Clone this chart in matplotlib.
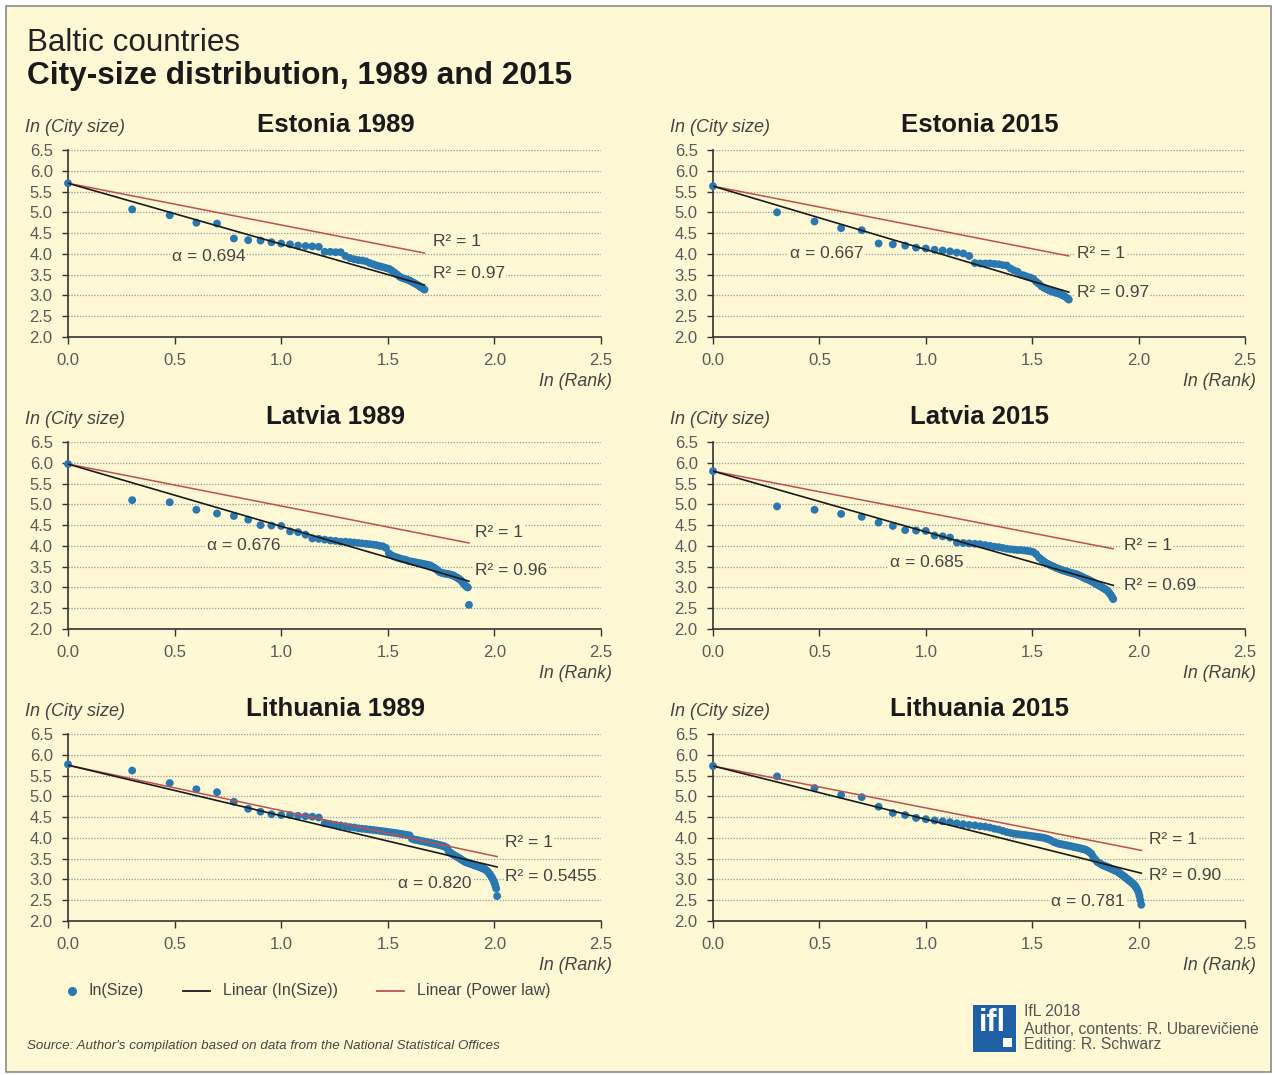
import numpy as np
import matplotlib
matplotlib.use("Agg")
import matplotlib.pyplot as plt
from matplotlib.patches import Rectangle
from matplotlib.lines import Line2D

plt.rcParams['font.family'] = ['Liberation Sans', 'DejaVu Sans']

# ---------------- data ----------------
panel_titles = ["Estonia 1989", "Estonia 2015", "Latvia 1989", "Latvia 2015",
                "Lithuania 1989", "Lithuania 2015"]

# log10(city size) by rank 1..N
est89_y = [5.70, 5.07, 4.93, 4.75, 4.73, 4.37, 4.33, 4.32, 4.28, 4.25,
           4.23, 4.20, 4.19, 4.18, 4.17, 4.05, 4.05, 4.04, 4.04, 3.95,
           3.90, 3.87, 3.85, 3.84, 3.82, 3.78, 3.75, 3.72, 3.70, 3.68,
           3.66, 3.64, 3.60, 3.55, 3.50, 3.45, 3.42, 3.40, 3.38, 3.36,
           3.33, 3.30, 3.27, 3.24, 3.20, 3.17, 3.14]
est15_y = [5.63, 5.00, 4.78, 4.62, 4.57, 4.25, 4.23, 4.20, 4.15, 4.13,
           4.10, 4.08, 4.06, 4.03, 4.01, 3.95, 3.78, 3.77, 3.77, 3.77,
           3.76, 3.75, 3.73, 3.72, 3.65, 3.60, 3.57, 3.50, 3.48, 3.45,
           3.43, 3.40, 3.33, 3.28, 3.22, 3.18, 3.15, 3.12, 3.10, 3.08,
           3.06, 3.05, 3.03, 3.00, 2.98, 2.94, 2.90]
lat89_y = [5.97, 5.10, 5.05, 4.87, 4.78, 4.72, 4.63, 4.50, 4.49, 4.48,
           4.35, 4.33, 4.27, 4.18, 4.17, 4.15, 4.13, 4.12, 4.10, 4.10,
           4.09, 4.08, 4.07, 4.06, 4.05, 4.04, 4.03, 4.02, 4.00, 3.99,
           3.95, 3.82, 3.77, 3.74, 3.72, 3.70, 3.68, 3.67, 3.65, 3.63,
           3.62, 3.61, 3.60, 3.59, 3.58, 3.57, 3.56, 3.55, 3.54, 3.53,
           3.50, 3.48, 3.45, 3.42, 3.38, 3.36, 3.35, 3.34, 3.33, 3.33,
           3.32, 3.31, 3.30, 3.29, 3.27, 3.25, 3.23, 3.21, 3.19, 3.16,
           3.12, 3.08, 3.05, 3.02, 3.00, 2.58]
lat15_y = [5.80, 4.95, 4.87, 4.77, 4.70, 4.56, 4.48, 4.38, 4.37, 4.36,
           4.25, 4.23, 4.20, 4.08, 4.07, 4.06, 4.05, 4.04, 4.02, 4.00,
           3.98, 3.97, 3.95, 3.93, 3.92, 3.91, 3.90, 3.90, 3.89, 3.88,
           3.87, 3.85, 3.80, 3.72, 3.67, 3.62, 3.58, 3.55, 3.52, 3.50,
           3.47, 3.45, 3.43, 3.41, 3.40, 3.38, 3.37, 3.35, 3.34, 3.33,
           3.32, 3.30, 3.28, 3.26, 3.24, 3.22, 3.20, 3.19, 3.17, 3.15,
           3.13, 3.11, 3.09, 3.07, 3.05, 3.03, 3.01, 2.99, 2.97, 2.95,
           2.93, 2.90, 2.86, 2.82, 2.77, 2.72]
lit89_y = [5.77, 5.62, 5.32, 5.17, 5.10, 4.87, 4.70, 4.63, 4.57, 4.55,
           4.55, 4.53, 4.52, 4.51, 4.49, 4.35, 4.33, 4.31, 4.30, 4.28,
           4.26, 4.25, 4.23, 4.22, 4.21, 4.20, 4.19, 4.18, 4.17, 4.16,
           4.15, 4.14, 4.13, 4.12, 4.11, 4.10, 4.09, 4.08, 4.07, 4.06,
           3.98, 3.96, 3.95, 3.94, 3.93, 3.92, 3.91, 3.90, 3.89, 3.88,
           3.87, 3.86, 3.85, 3.84, 3.83, 3.82, 3.81, 3.80, 3.78, 3.76,
           3.68, 3.65, 3.62, 3.60, 3.58, 3.56, 3.54, 3.52, 3.50, 3.48,
           3.46, 3.44, 3.42, 3.41, 3.40, 3.39, 3.38, 3.37, 3.36, 3.35,
           3.34, 3.33, 3.32, 3.31, 3.30, 3.29, 3.28, 3.27, 3.26, 3.25,
           3.23, 3.21, 3.19, 3.16, 3.13, 3.10, 3.06, 3.02, 2.97, 2.92,
           2.85, 2.78, 2.60]
lit15_y = [5.73, 5.48, 5.20, 5.03, 4.98, 4.75, 4.60, 4.55, 4.48, 4.45,
           4.42, 4.40, 4.38, 4.35, 4.33, 4.31, 4.30, 4.28, 4.27, 4.25,
           4.22, 4.20, 4.17, 4.14, 4.12, 4.10, 4.09, 4.08, 4.07, 4.06,
           4.05, 4.04, 4.03, 4.02, 4.01, 4.00, 3.98, 3.96, 3.93, 3.90,
           3.88, 3.86, 3.85, 3.84, 3.83, 3.82, 3.81, 3.80, 3.79, 3.78,
           3.77, 3.76, 3.75, 3.74, 3.73, 3.72, 3.70, 3.68, 3.65, 3.62,
           3.55, 3.50, 3.46, 3.42, 3.40, 3.38, 3.36, 3.34, 3.33, 3.32,
           3.30, 3.29, 3.28, 3.26, 3.25, 3.24, 3.22, 3.21, 3.20, 3.18,
           3.16, 3.14, 3.12, 3.10, 3.08, 3.06, 3.04, 3.02, 3.00, 2.98,
           2.96, 2.94, 2.92, 2.90, 2.88, 2.85, 2.82, 2.78, 2.74, 2.68,
           2.60, 2.50, 2.39]

# fitted trend lines: value at ln(Rank)=0 and at the last rank
linear_start = [5.70, 5.63, 5.97, 5.80, 5.75, 5.73]
linear_end   = [3.25, 3.08, 3.15, 3.05, 3.30, 3.15]
power_start  = [5.70, 5.63, 5.97, 5.80, 5.75, 5.73]
power_end    = [4.02, 3.95, 4.07, 3.93, 3.55, 3.70]

r2_power_labels  = ["R² = 1"] * 6
r2_linear_labels = ["R² = 0.97", "R² = 0.97", "R² = 0.96", "R² = 0.69",
                    "R² = 0.5455", "R² = 0.90"]
alpha_labels = ["α = 0.694", "α = 0.667", "α = 0.676", "α = 0.685",
                "α = 0.820", "α = 0.781"]

x_ticks = [0.0, 0.5, 1.0, 1.5, 2.0, 2.5]
y_ticks = [2.0, 2.5, 3.0, 3.5, 4.0, 4.5, 5.0, 5.5, 6.0, 6.5]

series = [est89_y, est15_y, lat89_y, lat15_y, lit89_y, lit15_y]

# ---------------- layout / style ----------------
W, H = 1277, 1075
BG = '#fef8d4'
DOT = '#2a78b0'
RED = '#c0504d'
GRAY = '#5a5a5a'
TXT = '#444444'

fig = plt.figure(figsize=(W / 100, H / 100), dpi=100, facecolor='white')
fig.add_artist(Rectangle((6 / W, 1 - 1072 / H), (1271 - 6) / W, (1072 - 6) / H,
                         transform=fig.transFigure, facecolor=BG,
                         edgecolor='#8a8a8a', lw=1.2, zorder=-10))

def fx(px):
    return px / W

def fy(py):
    return 1 - py / H

col_left = [68, 713]
col_right = [601, 1245]
row_bottom = [337, 629, 921]
row_top = [150, 442, 734]

# annotation positions (data coords): (x, y) for R²=1, R² linear, alpha (left aligned)
ann_pos = [
    ((1.71, 4.31), (1.71, 3.52), (0.49, 3.93)),
    ((1.71, 4.00), (1.71, 3.08), (0.36, 4.00)),
    ((1.91, 4.33), (1.91, 3.40), (0.65, 4.00)),
    ((1.93, 4.02), (1.93, 3.04), (0.83, 3.59)),
    ((2.05, 3.88), (2.05, 3.06), (1.55, 2.91)),
    ((2.05, 3.95), (2.05, 3.10), (1.59, 2.48)),
]

for i, ys in enumerate(series):
    r, c = divmod(i, 2)
    l, rgt = col_left[c], col_right[c]
    b, t = row_bottom[r], row_top[r]
    ax = fig.add_axes([fx(l), fy(b), (rgt - l) / W, (b - t) / H])
    ax.set_facecolor('none')
    ax.set_xlim(0, 2.5)
    ax.set_ylim(2.0, 6.5)

    ranks = np.arange(1, len(ys) + 1)
    xs = np.log10(ranks)
    ax.scatter(xs, ys, s=32, color=DOT, edgecolors='none', zorder=3, clip_on=False)
    xe = xs[-1]
    ax.plot([0, xe], [power_start[i], power_end[i]], color=RED, lw=1.1, zorder=4)
    ax.plot([0, xe], [linear_start[i], linear_end[i]], color='#1a1a1a', lw=1.2, zorder=4)

    ax.set_xticks(x_ticks)
    ax.set_yticks(y_ticks)
    ax.set_xticklabels([f"{v:.1f}" for v in x_ticks])
    ax.set_yticklabels([f"{v:.1f}" for v in y_ticks])
    ax.tick_params(axis='y', direction='out', length=4, width=1, color='#333333',
                   pad=7, labelsize=12, labelcolor=GRAY)
    ax.tick_params(axis='x', direction='out', length=5, width=1, color='#333333',
                   pad=6.5, labelsize=12, labelcolor=GRAY)
    for s in ['top', 'right']:
        ax.spines[s].set_visible(False)
    for s in ['left', 'bottom']:
        ax.spines[s].set_color('#333333')
        ax.spines[s].set_linewidth(1.2)
    for yv in y_ticks[1:]:
        ax.axhline(yv, color='#9a9a9a', lw=0.9, ls=(0, (1, 1.3)), zorder=1)

    bb = dict(facecolor=BG, edgecolor='none', pad=1.0)
    (p1, p2, p3) = ann_pos[i]
    ax.text(p1[0], p1[1], r2_power_labels[i], fontsize=12.5, color=TXT,
            ha='left', va='center', bbox=bb, zorder=5)
    ax.text(p2[0], p2[1], r2_linear_labels[i], fontsize=12.5, color=TXT,
            ha='left', va='center', bbox=bb, zorder=5)
    ax.text(p3[0], p3[1], alpha_labels[i], fontsize=12.5, color=TXT,
            ha='left', va='center', bbox=bb, zorder=2)

    # panel title and axis labels
    fig.text(fx((l + rgt) / 2 + 1), fy(t - 25), panel_titles[i], fontsize=18.5,
             fontweight='bold', color='#1a1a1a', ha='center', va='center')
    fig.text(fx(l - 43), fy(t - 22), "In (City size)", fontsize=13, style='italic',
             color=TXT, ha='left', va='center')
    fig.text(fx(rgt + 11), fy(b + 44), "In (Rank)", fontsize=12.8, style='italic',
             color=TXT, ha='right', va='center')

# main titles
fig.text(fx(27), fy(43), "Baltic countries", fontsize=22.6, color='#222222',
         ha='left', va='center')
fig.text(fx(27), fy(76), "City-size distribution, 1989 and 2015", fontsize=22.8,
         fontweight='bold', color='#1a1a1a', ha='left', va='center')

# legend
ly = fy(991)
fig.add_artist(Line2D([fx(72)], [ly], marker='o', markersize=5.5, color=DOT,
                      transform=fig.transFigure))
fig.text(fx(89), ly, "In(Size)", fontsize=11.5, color=TXT, ha='left', va='center')
fig.add_artist(Line2D([fx(183), fx(210)], [ly, ly], color='#1a1a1a', lw=1.3,
                      transform=fig.transFigure))
fig.text(fx(223), ly, "Linear (In(Size))", fontsize=11.5, color=TXT, ha='left', va='center')
fig.add_artist(Line2D([fx(377), fx(404)], [ly, ly], color=RED, lw=1.3,
                      transform=fig.transFigure))
fig.text(fx(417), ly, "Linear (Power law)", fontsize=11.5, color=TXT, ha='left', va='center')

# source
fig.text(fx(27), fy(1046), "Source: Author's compilation based on data from the National Statistical Offices",
         fontsize=9.6, style='italic', color=TXT, ha='left', va='center')

# logo
fig.add_artist(Rectangle((fx(973), fy(1052)), 43 / W, 47 / H, transform=fig.transFigure,
                         facecolor='#1f5fa6', edgecolor='none'))
fig.text(fx(992), fy(1023), "ifl", fontsize=22, fontweight='bold', color='white',
         ha='center', va='center')
fig.add_artist(Rectangle((fx(1003), fy(1047)), 9 / W, 9 / H, transform=fig.transFigure,
                         facecolor='white', edgecolor='none'))
for txt, py in [("IfL 2018", 1012), ("Author, contents: R. Ubarevičienė", 1029),
                ("Editing: R. Schwarz", 1045)]:
    fig.text(fx(1024), fy(py), txt, fontsize=11.3, color='#555555', ha='left', va='center')

fig.savefig("out.png", dpi=100, facecolor='white')
